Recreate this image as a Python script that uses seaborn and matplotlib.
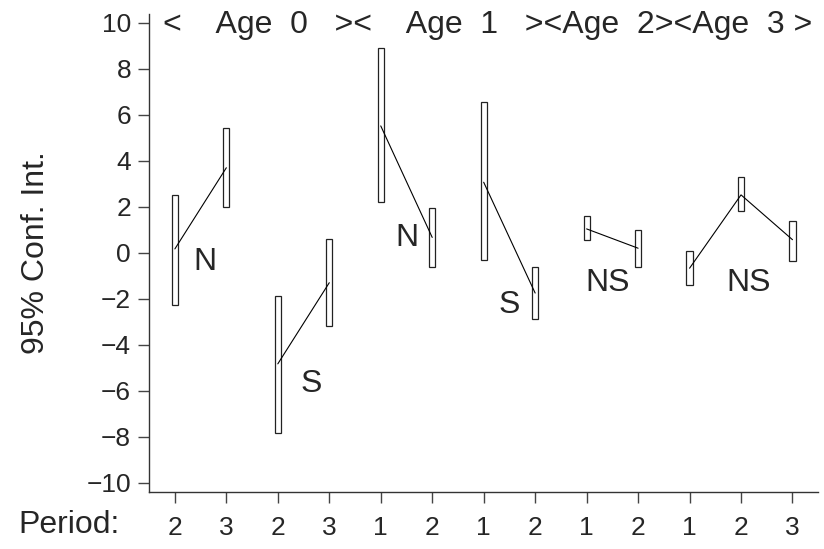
import numpy as np
import pandas as pd
import matplotlib
matplotlib.use("Agg")
import matplotlib.pyplot as plt
import seaborn as sns

# confidence intervals
period = ["2", "3", "2", "3", "1", "2", "1", "2", "1", "2", "1", "2", "3"]
group = ["a0", "a0", "b0", "b0", "a1", "a1", "b1", "b1", "a2", "a2", "a3", "a3", "a3"]
lower = [-2.26, 2.0, -7.83, -3.2, 2.19, -0.6, -0.3, -2.9, 0.54, -0.62, -1.42, 1.83, -0.35]
upper = [2.52, 5.43, -1.9, 0.61, 8.9, 1.93, 6.55, -0.6, 1.61, 1.0, 0.06, 3.29, 1.39]
mean = [0.17, 3.7, -4.83, -1.3, 5.52, 0.67, 3.07, -1.75, 1.04, 0.2, -0.67, 2.52, 0.57]

sig_labels = ["N", "S", "N", "S", "NS", "NS"]
sig_x = [0.58, 2.64, 4.5, 6.5, 8.4, 11.15]
sig_y = [-0.4, -5.7, 0.65, -2.26, -1.3, -1.3]

header = "<    Age  0   ><    Age  1   ><Age  2><Age  3 >"

df = pd.DataFrame({"pos": np.arange(len(period)), "group": group,
                   "lower": lower, "upper": upper, "mean": mean})

sns.set_style("ticks")
plt.rcParams["font.family"] = ["Liberation Sans", "DejaVu Sans"]

fig = plt.figure(figsize=(8.24, 5.49), dpi=100)
ax = fig.add_axes([0.181, 0.104, 0.812, 0.871])

# CI boxes
ax.bar(df["pos"], df["upper"] - df["lower"], bottom=df["lower"], width=0.12,
       facecolor="white", edgecolor="#222222", linewidth=0.9, zorder=2)

# lines joining the means within each comparison
sns.lineplot(data=df, x="pos", y="mean", hue="group", units="group",
             estimator=None, palette=["black"] * df["group"].nunique(),
             linewidth=0.8, legend=False, ax=ax, zorder=3)

for lab, x, y in zip(sig_labels, sig_x, sig_y):
    ax.text(x, y, lab, fontsize=23, ha="center", va="center")

ax.text(-0.23, 9.9, header, fontsize=23, ha="left", va="center")

ax.set_xlim(-0.5, 12.5)
ax.set_ylim(-10.4, 10.4)
ax.set_yticks(np.arange(-10, 11, 2))
ax.set_xticks(df["pos"])
ax.set_xticklabels(period)
ax.tick_params(axis="both", labelsize=19, length=8, width=1, color="#444444")
ax.tick_params(axis="x", pad=9)
ax.tick_params(axis="y", pad=5)
ax.set_xlabel("")
ax.set_ylabel("95% Conf. Int.", fontsize=23, labelpad=6)
ax.yaxis.set_label_coords(-0.147, 0.5)
for s in ["left", "bottom"]:
    ax.spines[s].set_color("#333333")
    ax.spines[s].set_linewidth(1)
sns.despine(ax=ax)

fig.text(0.022, 0.044, "Period:", fontsize=23, ha="left", va="center")

fig.savefig("out.png", dpi=100)
